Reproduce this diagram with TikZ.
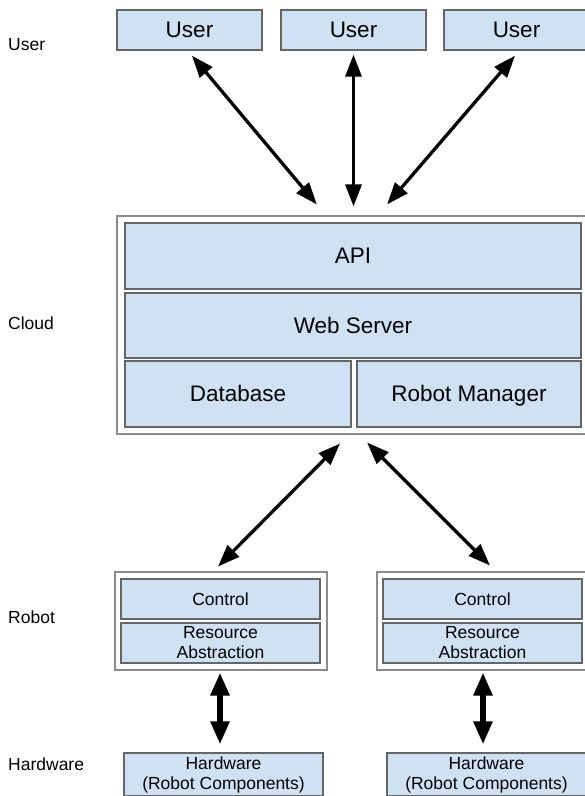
\documentclass[tikz,border=0pt]{standalone}
\usepackage{fontspec}
\setmainfont{Liberation Sans}
\usetikzlibrary{arrows.meta}
\definecolor{boxfill}{HTML}{CFE2F3}
\definecolor{boxline}{HTML}{666666}
\definecolor{frameline}{HTML}{8C8C8C}
\begin{document}
\begin{tikzpicture}[x=1pt,y=-1pt,
  frame/.style n args={2}{draw=frameline, line width=1.1pt, fill=white,
    inner sep=0pt, minimum width=#1, minimum height=#2},
  bigbox/.style n args={2}{draw=boxline, line width=1.3pt, fill=boxfill,
    inner sep=0pt, minimum width=#1, minimum height=#2,
    text height=15.8pt, text depth=0pt,
    font=\fontsize{22.5}{26}\selectfont},
  smallbox/.style n args={2}{draw=boxline, line width=1.2pt, fill=boxfill,
    inner sep=0pt, minimum width=#1, minimum height=#2, align=center,
    font=\fontsize{17.5}{20}\selectfont},
  lbl/.style={anchor=base west, inner sep=0pt, font=\fontsize{17.5}{20}\selectfont},
  slimarrow/.style={{Triangle[length=22pt,width=16pt]}-{Triangle[length=22pt,width=16pt]},
    line width=3.3pt},
  fatarrow/.style={{Triangle[length=23pt,width=18pt]}-{Triangle[length=23pt,width=18pt]},
    line width=5.5pt}]
\useasboundingbox (0,0) rectangle (585,796);
\fill[white] (0,0) rectangle (585,796);

% layer labels
\node[lbl] (lblUser) at (8,50) {User};
\node[lbl] (lblCloud) at (8,329) {Cloud};
\node[lbl] (lblRobot) at (8,623) {Robot};
\node[lbl] (lblHw) at (8,770) {Hardware};

% users
\node[bigbox={145}{40}] (uA) at (189.5,30) {User};
\node[bigbox={145}{40}] (uB) at (353.5,30) {User};
\node[bigbox={145}{40}] (uC) at (516.5,30) {User};

% cloud
\node[frame={472}{218}] (cloud) at (353,325) {};
\node[bigbox={456}{66}] (api) at (353,256) {API};
\node[bigbox={456}{65}] (web) at (353,325.5) {Web Server};
\node[bigbox={226}{66}] (db) at (238,394) {Database};
\node[bigbox={224}{66}] (rm) at (469,394) {Robot Manager};

% robots
\node[frame={212}{98}] (robotA) at (221,621) {};
\node[smallbox={199}{40}] (ctrlA) at (220.5,599) {Control};
\node[smallbox={199}{40}] (resA) at (220.5,643) {Resource\\Abstraction};
\node[frame={212}{98}] (robotB) at (483,621) {};
\node[smallbox={199}{40}] (ctrlB) at (482.5,599) {Control};
\node[smallbox={199}{40}] (resB) at (482.5,643) {Resource\\Abstraction};

% hardware
\node[smallbox={199}{43}] (hwA) at (223.5,774.5) {Hardware\\(Robot Components)};
\node[smallbox={199}{43}] (hwB) at (486.5,774.5) {Hardware\\(Robot Components)};

% user <-> cloud
\draw[slimarrow, shorten <=6.5pt, shorten >=14.3pt] ([xshift=-1.7pt]uA.south) -- ([xshift=-27pt]cloud.north);
\draw[slimarrow, shorten <=4pt, shorten >=9pt] (uB.south) -- (uB.south |- cloud.north);
\draw[slimarrow, shorten <=6.6pt, shorten >=14.5pt] ([xshift=2.8pt]uC.south) -- ([xshift=24.6pt]cloud.north);

% cloud <-> robots
\draw[slimarrow, shorten <=12.6pt, shorten >=7pt] ([xshift=-4.1pt]cloud.south) -- ([xshift=-7.9pt]robotA.north);
\draw[slimarrow, shorten <=11.3pt, shorten >=8.5pt] ([xshift=6.1pt]cloud.south) -- ([xshift=13pt]robotB.north);

% robots <-> hardware
\draw[fatarrow, shorten <=2pt, shorten >=8pt] ([xshift=-1pt]robotA.south) -- ([xshift=-1pt]robotA.south |- hwA.north);
\draw[fatarrow, shorten <=2pt, shorten >=8pt] (robotB.south) -- (robotB.south |- hwB.north);
\end{tikzpicture}
\end{document}
